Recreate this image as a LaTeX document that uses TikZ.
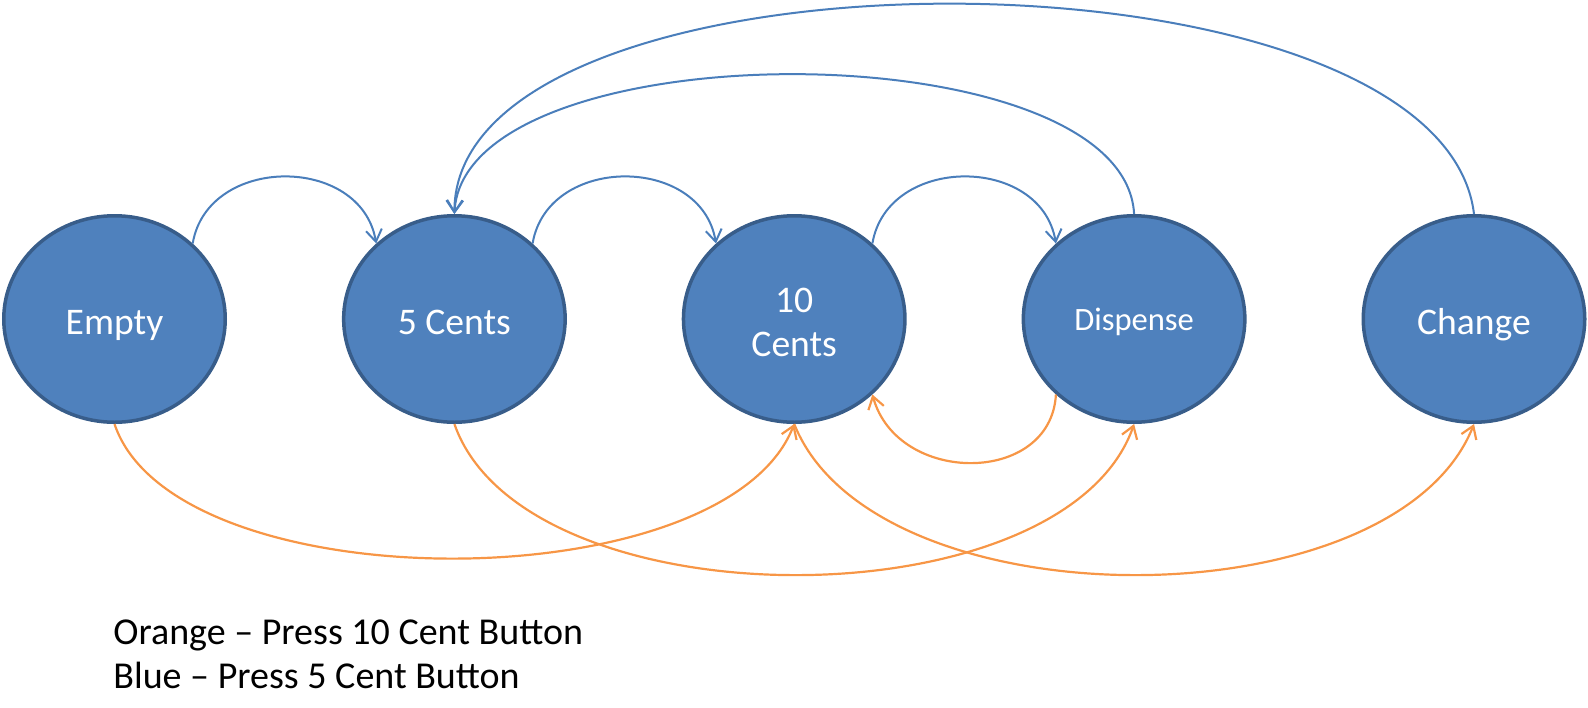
\documentclass[tikz,border=0pt]{standalone}
\usepackage{fontspec}
\setmainfont{Carlito}
\usetikzlibrary{shapes.geometric,arrows.meta}
\definecolor{nodefill}{HTML}{4F81BD}
\definecolor{nodeline}{HTML}{385D8A}
\definecolor{bluearrow}{HTML}{4A7EBB}
\definecolor{orangearrow}{HTML}{F79646}
\newcommand{\statetext}[2][15pt]{\raisebox{0pt}[#1][0pt]{#2}}
\begin{document}
\begin{tikzpicture}[x=0.5pt,y=-0.5pt,
  state/.style={ellipse, draw=nodeline, fill=nodefill, line width=1.75pt,
    minimum width=110.75pt, minimum height=103.25pt, inner sep=0pt, text=white,
    font=\fontsize{18.8}{22}\selectfont},
  bluearc/.style={draw=bluearrow, line width=1pt, -{Straight Barb[length=6pt,width=8pt]}},
  orangearc/.style={draw=orangearrow, line width=1.1pt, -{Straight Barb[length=6pt,width=8pt]}},
  legend/.style={anchor=base west, font=\fontsize{19}{22}\selectfont, inner sep=0pt}
]
\useasboundingbox (0,0) rectangle (1588,707);

\node[state] (empty) at (114.5,319) {\statetext{Empty}};
\node[state] (c5) at (454.4,319) {\statetext{5 Cents}};
\node[state, align=center] (c10) at (794.2,319) {\rule{0pt}{15.5pt}10\\Cents};
\node[state, font=\fontsize{16.3}{20}\selectfont] (disp) at (1134.1,319) {\statetext[11pt]{Dispense}};
\node[state] (change) at (1474,319) {\statetext{Change}};

% blue: press 5 cent button
\draw[bluearc] (empty.44) .. controls +(15,-89) and +(-15,-89) .. (c5.136);
\draw[bluearc] (c5.44) .. controls +(15,-89) and +(-15,-89) .. (c10.136);
\draw[bluearc] (c10.44) .. controls +(15,-89) and +(-15,-89) .. (disp.136);
\draw[bluearc] (disp.north) .. controls +(-10,-186) and +(10,-186) .. (c5.north);
\draw[bluearc] (change.north) .. controls +(-34,-280) and +(0,-280) .. (c5.north);

% orange: press 10 cent button
\draw[orangearc] (empty.south) .. controls +(60,179) and +(-70,179) .. (c10.south);
\draw[orangearc] (c5.south) .. controls +(70,201) and +(-70,201) .. (disp.south);
\draw[orangearc] (c10.south) .. controls +(80,201) and +(-80,201) .. (change.south);
\draw[orangearc] (disp.224) .. controls +(-5,91) and +(25,91) .. (c10.316);

\node[legend] (l1) at (113,644) {Orange – Press 10 Cent Button};
\node[legend] (l2) at (113,688) {Blue – Press 5 Cent Button};
\end{tikzpicture}
\end{document}
